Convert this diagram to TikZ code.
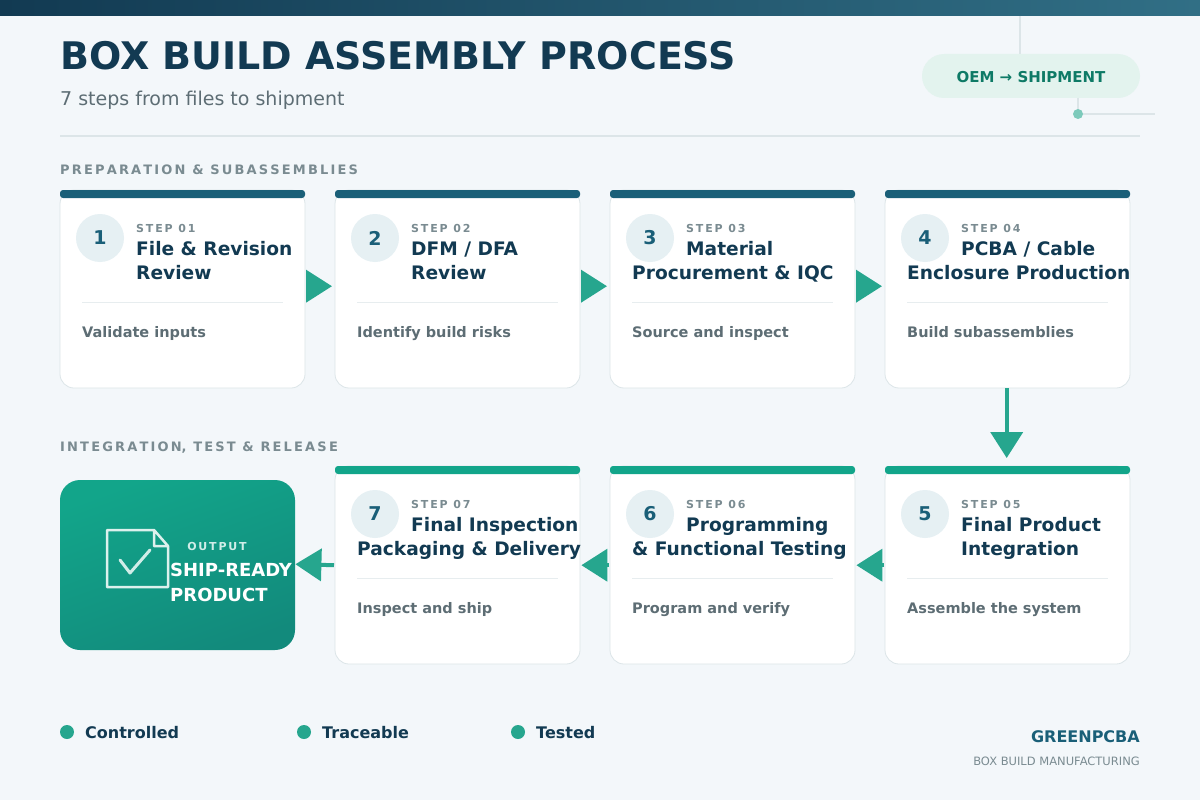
\documentclass[tikz,border=0pt]{standalone}
\usepackage{fontspec}
\setmainfont{DejaVu Sans}
\usetikzlibrary{positioning,arrows.meta,calc}

\definecolor{bgpage}{HTML}{F3F7FA}
\definecolor{navy}{HTML}{123A52}
\definecolor{deepteal}{HTML}{1A5F78}
\definecolor{green}{HTML}{12A58A}
\definecolor{arrowgreen}{HTML}{26A68E}
\definecolor{greytext}{HTML}{5D6D74}
\definecolor{labelgrey}{HTML}{7A8B91}
\definecolor{rule}{HTML}{DCE5E8}
\definecolor{circfill}{HTML}{E6F0F3}
\definecolor{pill}{HTML}{E3F3EE}
\definecolor{pilltext}{HTML}{0E7A66}

\tikzset{
	card/.style={draw=rule, fill=white, rounded corners=14, line width=0.8},
	stepno/.style={circle, fill=circfill, minimum size=48, inner sep=0, text=deepteal, font=\bfseries\fontsize{19}{19}\selectfont},
	steplbl/.style={anchor=base west, text=labelgrey, font=\bfseries\fontsize{11}{11}\selectfont, inner sep=0},
	steptitle/.style={anchor=base west, text=navy, align=left, font=\bfseries\fontsize{18.6}{24}\selectfont, inner sep=0},
	stepdesc/.style={anchor=base west, text=greytext, font=\bfseries\fontsize{14.5}{14.5}\selectfont, inner sep=0},
	section/.style={anchor=base west, text=labelgrey, font=\bfseries\fontsize{13}{13}\selectfont, inner sep=0},
	flow/.style={draw=arrowgreen, line width=4, -{Triangle[length=26,width=32]}},
}

\begin{document}
\begin{tikzpicture}[x=1pt, y=-1pt]

	% ---- page

	\fill[bgpage] (0,0) rectangle (1200,800);
	\useasboundingbox (0,0) rectangle (1200,800);
	\shade[left color=navy, right color=deepteal!90] (0,0) rectangle (1200,16);

	% ---- header

	\node[anchor=base west, inner sep=0, text=navy, font=\bfseries\fontsize{38}{38}\selectfont] (title) at (60,70) {BOX BUILD ASSEMBLY PROCESS};
	\node[anchor=base west, inner sep=0, text=greytext, font=\fontsize{19}{19}\selectfont] (subtitle) at (60,106) {7 steps from files to shipment};
	\draw[rule, line width=1.5] (60,136) -- (1140,136);

	\draw[rule, line width=1.5] (1020,16) -- (1020,54);
	\fill[pill, rounded corners=22] (922,54) rectangle (1140,98);
	\node[text=pilltext, font=\bfseries\fontsize{15}{15}\selectfont] (badge) at (1031,77) {OEM → SHIPMENT};
	\coordinate (dot) at (1078,114);
	\draw[rule, line width=1.5] (1078,98) -- (dot) -- (1155,114);
	\fill[arrowgreen!60] (dot) circle (5);

	% ---- sections

	\node[section] (sec1) at (60,174) {P\,R\,E\,P\,A\,R\,A\,T\,I\,O\,N \,\& \,S\,U\,B\,A\,S\,S\,E\,M\,B\,L\,I\,E\,S};
	\node[section] (sec2) at (60,451) {I\,N\,T\,E\,G\,R\,A\,T\,I\,O\,N, \,T\,E\,S\,T \,\& \,R\,E\,L\,E\,A\,S\,E};

	% ---- cards

	\foreach \n/\x/\y/\col/\ta/\tb/\bx/\d in {
		1/60/190/deepteal/{File \& Revision}/{Review}/76/{Validate inputs},
		2/335/190/deepteal/{DFM / DFA}/{Review}/76/{Identify build risks},
		3/610/190/deepteal/{Material}/{Procurement \& IQC}/22/{Source and inspect},
		4/885/190/deepteal/{PCBA / Cable}/{Enclosure Production}/22/{Build subassemblies},
		5/885/466/green/{Final Product}/{Integration}/76/{Assemble the system},
		6/610/466/green/{Programming}/{\& Functional Testing}/22/{Program and verify},
		7/335/466/green/{Final Inspection}/{Packaging \& Delivery}/22/{Inspect and ship}} {
		\path[card] (\x,\y) rectangle ++(245,198);
		\node[inner sep=0, minimum width=245, minimum height=198, anchor=north west] (s\n) at (\x,\y) {};
		\fill[\col, rounded corners=3] (\x,\y) rectangle ++(245,8);
		\node[stepno] (c\n) at ($(\x,\y)+(40,48)$) {\n};
		\node[steplbl] at ($(\x,\y)+(76,42)$) {S\,T\,E\,P\, 0\,\n};
		\node[steptitle] at ($(\x,\y)+(76,65)$) {\ta};
		\node[steptitle] at ($(\x,\y)+(\bx,89)$) {\tb};
		\draw[rule!70, line width=1] ($(\x,\y)+(22,112)$) -- ++(201,0);
		\node[stepdesc] at ($(\x,\y)+(22,147)$) {\d};
	}

	% ---- output

	\shade[rounded corners=20, top color=green, bottom color=green!75!navy, shading angle=20] (60,480) rectangle (295,650);
	\node[inner sep=0, minimum width=235, minimum height=170, anchor=north west] (out) at (60,480) {};
	\draw[white!85!green, line width=2.5, line join=round]
		(107,530) -- (154,530) -- (168,546) -- (168,587) -- (107,587) -- cycle
		(154,530) -- (154,546) -- (168,546);
	\draw[white!80!green, line width=3, line cap=round, line join=round] (120,560) -- (130,573) -- (150,550);
	\node[anchor=base, inner sep=0, text=white!80!green, font=\bfseries\fontsize{11}{11}\selectfont] at (217,550) {O\,U\,T\,P\,U\,T};
	\node[anchor=base west, inner sep=0, text=white, font=\bfseries\fontsize{18}{18}\selectfont] at (170,576) {SHIP-READY};
	\node[anchor=base west, inner sep=0, text=white, font=\bfseries\fontsize{18}{18}\selectfont] at (170,601) {PRODUCT};

	% ---- flow

	\draw[flow] ($(s1.east)+(1,-3)$) -- ($(s2.west)+(-3,-3)$);
	\draw[flow] ($(s2.east)+(1,-3)$) -- ($(s3.west)+(-3,-3)$);
	\draw[flow] ($(s3.east)+(1,-3)$) -- ($(s4.west)+(-3,-3)$);
	\draw[flow] ($(s4.south)+(-1,0)$) -- ($(s5.north)+(-1,-8)$);
	\draw[flow] ($(s5.west)+(-1,0)$) -- ($(s6.east)+(1,0)$);
	\draw[flow] ($(s6.west)+(-1,0)$) -- ($(s7.east)+(1,0)$);
	\draw[flow] ($(s7.west)+(-1,0)$) -- ($(out.east)+(0,-1)$);

	% ---- footer

	\foreach \x/\t in {67/Controlled, 304/Traceable, 518/Tested} {
		\fill[arrowgreen] (\x,732) circle (7);
		\node[anchor=base west, inner sep=0, text=navy, font=\bfseries\fontsize{16}{16}\selectfont] at (\x+18,738) {\t};
	}
	\node[anchor=base east, inner sep=0, text=deepteal, font=\bfseries\fontsize{16}{16}\selectfont] (brand) at (1140,742) {GREENPCBA};
	\node[anchor=base east, inner sep=0, text=labelgrey, font=\fontsize{11.5}{11.5}\selectfont] (tag) at (1140,765) {BOX BUILD MANUFACTURING};

\end{tikzpicture}
\end{document}
